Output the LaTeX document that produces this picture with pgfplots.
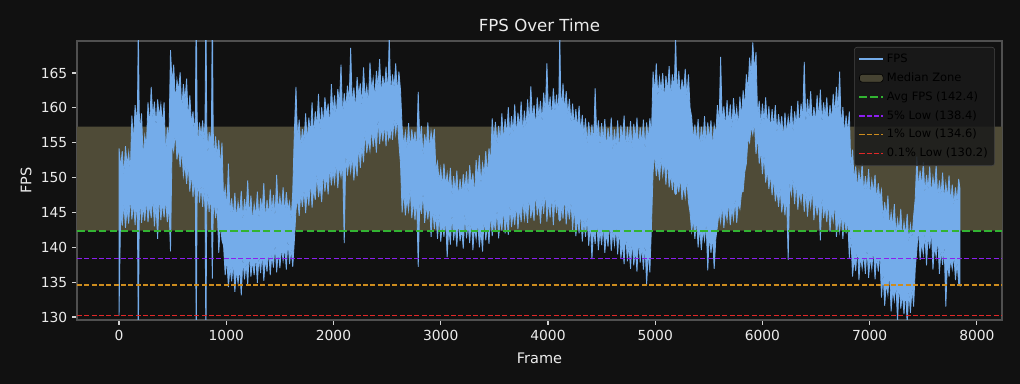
\documentclass[border=0pt]{standalone}
\usepackage{pgfplots}
\usepackage{pgfplotstable}
\pgfplotsset{compat=1.18}
\usepackage{fontspec}
\setmainfont{DejaVu Sans}
\definecolor{bg}{RGB}{17,17,17}
\definecolor{axcol}{RGB}{80,80,80}
\definecolor{tickcol}{RGB}{210,210,210}
\definecolor{lbl}{RGB}{235,235,235}
\definecolor{fpsc}{RGB}{116,172,234}
\definecolor{zone}{RGB}{79,75,55}
\definecolor{avgc}{RGB}{50,180,50}
\definecolor{pfive}{RGB}{140,30,240}
\definecolor{pone}{RGB}{205,140,30}
\definecolor{lowred}{HTML}{E02828}
\definecolor{legbg}{RGB}{26,26,26}
\definecolor{legedge}{RGB}{70,70,70}
% FPS band: highest values going forward in frame, then lowest values coming back
\pgfplotstableread{
x y
0 154.2
15 151.4
30 153.8
45 150.2
60 154.5
75 151.8
90 153.6
105 150.6
120 158.9
135 154.7
150 160.4
161 157.8
172 160.0
180 172
188 159.5
199 156.4
210 159.2
225 152.6
240 156.0
255 154.4
270 160.8
285 157.0
300 163.0
315 158.5
330 160.9
345 157.3
360 161.2
375 158.7
390 160.5
405 157.5
420 160.8
435 153.0
450 157.2
465 155.0
480 168.3
495 163.4
510 166.2
525 160.6
540 164.0
555 162.4
570 165.1
585 159.6
600 163.4
615 161.0
630 164.2
645 158.2
660 161.8
675 157.7
690 159.5
701 156.0
712 159.0
720 175
728 159.0
739 153.7
750 157.9
765 155.7
780 158.2
791 155.2
802 158.0
810 175
818 157.5
829 153.1
840 156.5
851 154.9
862 157.0
870 175
878 156.8
889 152.1
900 155.9
915 153.0
930 155.4
945 151.4
960 155.0
975 146.7
990 148.5
1005 145.5
1020 152.0
1035 144.8
1050 147.0
1065 144.2
1080 147.8
1095 143.9
1110 146.5
1125 144.6
1140 148.1
1155 143.8
1170 146.9
1185 144.9
1200 149.6
1215 144.1
1230 147.4
1245 143.5
1260 146.2
1275 144.4
1290 148.0
1305 143.9
1320 147.0
1335 145.1
1350 149.2
1365 143.6
1380 146.8
1395 144.3
1410 148.3
1425 145.0
1440 147.5
1455 144.2
1470 150.4
1485 144.8
1500 147.3
1515 145.2
1530 148.6
1545 144.6
1560 147.9
1575 145.4
1590 146.5
1605 144.0
1620 148.0
1635 156.5
1650 163.0
1665 155.1
1680 158.3
1695 154.2
1710 157.0
1725 155.0
1740 159.2
1755 154.9
1770 158.6
1785 156.0
1800 160.8
1815 155.7
1830 159.5
1845 157.2
1860 162.0
1875 156.6
1890 160.1
1905 157.4
1920 161.5
1935 158.8
1950 160.6
1965 157.1
1980 163.4
1995 159.2
2010 161.8
2025 158.6
2040 162.7
2055 160.3
2070 166.2
2085 158.4
2100 162.1
2115 159.9
2130 163.2
2145 160.6
2160 168.6
2175 160.1
2190 162.9
2205 159.5
2220 164.4
2235 161.7
2250 163.5
2265 160.2
2280 165.8
2295 161.3
2310 163.1
2325 160.5
2340 166.5
2355 162.4
2370 164.2
2385 161.2
2400 165.3
2415 162.9
2430 167.0
2445 161.8
2460 164.6
2475 162.6
2490 165.9
2501 162.1
2512 165.0
2520 170.5
2528 165.2
2539 161.6
2550 164.8
2565 162.8
2580 166.4
2595 162.0
2610 165.2
2625 162.5
2640 157.2
2655 154.6
2670 156.5
2685 154.0
2700 157.8
2715 153.9
2730 156.9
2745 154.7
2760 156.6
2775 153.6
2790 162.3
2805 155.0
2820 157.4
2835 153.0
2850 156.2
2865 154.4
2880 157.9
2895 153.8
2910 156.6
2925 154.8
2940 157.0
2955 151.0
2970 152.2
2985 149.4
3000 151.3
3015 148.5
3030 152.0
3045 148.8
3060 150.6
3075 148.4
3090 151.4
3105 147.2
3120 150.2
3135 147.9
3150 151.0
3165 146.8
3180 149.8
3195 147.4
3210 150.5
3225 148.1
3240 150.9
3255 147.6
3270 151.8
3285 148.8
3300 150.6
3315 147.2
3330 152.5
3345 149.7
3360 153.2
3375 148.9
3390 152.0
3405 150.4
3420 153.8
3435 150.2
3450 154.2
3465 152.0
3480 158.5
3495 155.1
3510 158.0
3525 154.6
3540 157.4
3555 155.0
3570 159.2
3585 154.8
3600 158.4
3615 155.9
3630 160.1
3645 155.6
3660 158.8
3675 156.3
3690 160.5
3705 155.9
3720 159.3
3735 157.0
3750 160.9
3765 156.2
3780 159.6
3795 157.1
3810 161.2
3825 157.6
3840 163.1
3855 158.2
3870 160.4
3885 157.0
3900 161.5
3915 158.6
3930 161.0
3945 157.8
3960 162.2
3975 159.0
3990 166.4
4005 158.9
4020 161.6
4035 158.4
4050 162.8
4065 159.3
4080 161.9
4091 159.0
4102 162.0
4110 170.5
4118 162.5
4129 159.6
4140 163.5
4155 159.4
4170 162.4
4185 158.9
4200 161.3
4215 157.7
4230 160.6
4245 157.2
4260 159.8
4275 156.8
4290 160.3
4305 156.4
4320 159.0
4335 155.9
4350 158.5
4365 154.7
4380 158.0
4395 155.2
4410 157.6
4425 154.5
4440 162.8
4455 155.6
4470 158.2
4485 154.4
4500 157.8
4515 155.0
4530 158.4
4545 153.9
4560 157.1
4575 154.6
4590 158.6
4605 153.8
4620 156.9
4635 154.3
4650 158.2
4665 153.6
4680 157.5
4695 155.1
4710 158.9
4725 154.0
4740 157.3
4755 154.8
4770 158.1
4785 153.9
4800 157.7
4815 155.2
4830 158.6
4845 154.1
4860 157.2
4875 154.7
4890 158.3
4905 153.8
4920 157.9
4935 155.3
4950 158.5
4965 156.0
4980 165.2
4995 162.1
5010 166.4
5025 161.5
5040 164.3
5055 162.4
5070 165.0
5085 161.0
5100 164.6
5115 162.2
5130 166.0
5145 161.4
5160 164.8
5171 162.6
5182 165.0
5190 170.5
5198 165.1
5209 161.8
5220 165.3
5235 161.3
5250 164.1
5265 162.0
5280 165.6
5295 161.5
5310 164.8
5325 160.0
5340 158.7
5355 155.3
5370 157.6
5385 154.9
5400 158.4
5415 154.1
5430 157.3
5445 155.0
5460 158.8
5475 154.6
5490 157.9
5505 155.3
5520 158.2
5535 154.2
5550 157.5
5565 156.0
5580 160.4
5595 157.2
5610 167.3
5625 157.8
5640 160.2
5655 157.0
5670 161.1
5685 157.6
5700 160.5
5715 156.9
5730 161.4
5745 158.1
5760 160.0
5775 157.2
5790 161.6
5805 158.4
5820 162.5
5835 160.0
5850 164.8
5865 162.3
5880 167.2
5895 164.6
5910 169.4
5925 165.2
5940 168.0
5955 158.5
5970 161.0
5985 157.4
6000 160.6
6015 157.9
6030 161.5
6045 157.3
6060 160.2
6075 156.6
6090 159.8
6105 157.0
6120 160.4
6135 156.2
6150 159.1
6165 156.8
6180 158.8
6195 155.4
6210 159.3
6225 156.1
6240 158.7
6255 156.9
6270 160.3
6285 156.3
6300 159.5
6315 157.4
6330 161.0
6345 157.0
6360 160.6
6375 158.2
6390 166.6
6405 157.6
6420 161.3
6435 158.5
6450 162.4
6465 157.4
6480 160.1
6495 157.9
6510 161.8
6525 158.2
6540 162.6
6555 157.7
6570 160.8
6585 158.6
6600 161.5
6615 157.3
6630 160.4
6645 158.0
6660 162.0
6675 158.9
6690 163.0
6705 159.4
6720 165.2
6735 156.8
6750 160.1
6765 155.9
6780 158.9
6795 156.3
6810 159.5
6825 151.2
6840 154.0
6855 149.6
6870 151.6
6885 148.3
6900 150.8
6915 148.9
6930 152.0
6945 147.6
6960 150.2
6975 148.1
6990 151.2
7005 147.2
7020 149.6
7035 147.8
7050 150.4
7065 146.5
7080 149.2
7095 146.9
7110 148.2
7125 144.0
7140 146.5
7155 144.3
7170 147.4
7185 142.6
7200 145.0
7215 142.9
7230 146.2
7245 141.8
7260 144.0
7275 142.2
7290 145.5
7305 141.0
7320 143.6
7335 141.6
7350 144.8
7365 140.7
7380 143.2
7395 141.3
7410 144.5
7425 147.0
7440 153.0
7455 148.4
7470 151.0
7485 148.6
7500 152.2
7515 147.6
7530 150.4
7545 148.2
7560 151.6
7575 147.3
7590 150.1
7605 148.3
7620 151.8
7635 147.0
7650 149.6
7665 147.4
7680 150.7
7695 146.8
7710 149.2
7725 147.0
7740 150.3
7755 146.2
7770 149.0
7785 146.0
7800 148.6
7815 146.4
7830 149.8
7842 148.4
7842 134.5
7830 134.8
7815 137.9
7800 135.3
7785 139.0
7770 136.9
7755 138.4
7740 135.8
7725 138.1
7710 131.5
7695 140.1
7680 137.5
7665 139.6
7650 136.2
7635 141.4
7620 138.6
7605 140.3
7590 136.8
7575 142.6
7560 139.8
7545 141.8
7530 137.4
7515 142.0
7500 139.0
7485 140.8
7470 138.2
7455 143.0
7440 139.6
7425 137.0
7410 131.5
7395 134.2
7380 130.6
7365 133.8
7350 128.9
7335 134.1
7320 130.4
7305 133.4
7290 131.2
7275 135.0
7260 129.2
7245 134.9
7230 132.4
7215 134.0
7200 130.8
7185 136.6
7170 133.2
7155 134.9
7140 131.6
7125 136.3
7110 132.8
7095 139.6
7080 136.5
7065 138.9
7050 135.4
7035 140.1
7020 136.9
7005 138.6
6990 135.6
6975 139.9
6960 136.2
6945 139.2
6930 137.0
6915 138.8
6900 135.3
6885 140.4
6870 136.6
6855 138.4
6840 135.8
6825 141.7
6810 138.5
6795 144.3
6780 142.0
6765 144.8
6750 141.2
6735 145.1
6720 142.3
6705 144.2
6690 141.5
6675 146.6
6660 143.8
6645 145.4
6630 142.2
6615 146.8
6600 143.6
6585 146.0
6570 144.2
6555 147.4
6540 141.0
6525 147.2
6510 144.6
6495 146.9
6480 143.9
6465 148.6
6450 145.8
6435 147.6
6420 144.4
6405 148.2
6390 145.1
6375 148.9
6360 146.5
6345 148.2
6330 145.4
6315 149.6
6300 146.2
6285 150.0
6270 147.6
6255 149.4
6240 138.2
6225 147.8
6210 144.6
6195 147.2
6180 145.0
6165 148.6
6150 145.8
6135 148.4
6120 146.6
6105 150.0
6090 147.5
6075 150.6
6060 148.4
6045 151.2
6030 149.3
6015 153.4
6000 150.5
5985 154.0
5970 152.0
5955 156.2
5940 153.4
5925 158.0
5910 156.2
5895 157.4
5880 155.0
5865 155.6
5850 152.0
5835 150.8
5820 148.0
5805 147.9
5790 145.5
5775 146.4
5760 143.5
5745 147.0
5730 144.0
5715 145.6
5700 143.2
5685 146.7
5670 143.9
5655 145.4
5640 142.8
5625 146.2
5610 143.6
5595 145.0
5580 143.0
5565 141.2
5550 136.9
5535 141.6
5520 139.2
5505 142.0
5490 136.7
5475 143.4
5460 141.0
5445 142.6
5430 139.6
5415 143.0
5400 140.0
5385 144.4
5370 141.2
5355 144.1
5340 142.3
5325 145.0
5310 146.5
5295 149.9
5280 147.2
5265 149.0
5250 146.8
5235 150.2
5220 147.9
5209 149.6
5198 147.7
5190 147.6
5182 147.8
5171 151.0
5160 148.2
5145 150.6
5130 148.6
5115 152.8
5100 149.0
5085 152.4
5070 150.4
5055 153.0
5040 149.6
5025 152.1
5010 150.2
4995 153.6
4980 150.8
4965 143.0
4950 136.4
4935 139.4
4920 134.6
4905 140.6
4890 136.8
4875 140.2
4860 137.8
4845 141.4
4830 136.5
4815 139.8
4800 137.4
4785 141.2
4770 136.9
4755 140.3
4740 138.0
4725 142.2
4710 137.6
4695 140.6
4680 138.4
4665 142.8
4650 139.0
4635 143.0
4620 140.4
4605 142.4
4590 139.5
4575 143.9
4560 140.1
4545 142.2
4530 139.2
4515 143.4
4500 140.3
4485 142.6
4470 139.6
4455 144.0
4440 140.5
4425 142.8
4410 138.3
4395 143.6
4380 140.2
4365 144.5
4350 141.5
4335 144.1
4320 140.8
4305 145.4
4290 142.0
4275 144.4
4260 141.6
4245 146.0
4230 142.5
4215 146.6
4200 144.0
4185 146.1
4170 143.3
4155 147.6
4140 144.1
4129 146.4
4118 144.0
4110 143.8
4102 144.0
4091 147.0
4080 144.9
4065 147.2
4050 143.2
4035 147.6
4020 144.3
4005 146.8
3990 143.7
3975 148.4
3960 144.8
3945 147.0
3930 143.4
3915 146.6
3900 144.6
3885 148.2
3870 143.8
3855 146.0
3840 144.2
3825 147.6
3810 143.5
3795 145.9
3780 144.1
3765 147.0
3750 143.6
3735 145.8
3720 142.6
3705 146.4
3690 143.2
3675 145.1
3660 142.9
3645 146.2
3630 141.8
3615 144.6
3600 142.0
3585 145.8
3570 142.4
3555 144.2
3540 141.3
3525 145.6
3510 142.2
3495 144.0
3480 141.6
3465 145.2
3450 140.5
3435 143.4
3420 141.0
3405 144.6
3390 139.4
3375 142.4
3360 140.0
3345 143.8
3330 141.2
3315 143.0
3300 139.6
3285 144.4
3270 140.6
3255 143.5
3240 141.3
3225 145.0
3210 139.8
3195 142.7
3180 140.9
3165 144.1
3150 140.1
3135 143.2
3120 141.0
3105 145.0
3090 140.4
3075 142.9
3060 138.6
3045 144.3
3030 141.5
3015 143.6
3000 140.8
2985 145.0
2970 141.2
2955 144.8
2940 142.6
2925 145.9
2910 141.5
2895 146.6
2880 144.0
2865 146.2
2850 143.5
2835 148.0
2820 144.8
2805 146.6
2790 137.2
2775 147.4
2760 143.9
2745 146.8
2730 144.2
2715 148.6
2700 145.3
2685 147.0
2670 144.6
2655 148.2
2640 145.0
2625 152.0
2610 154.9
2595 158.6
2580 156.3
2565 158.4
2550 155.4
2539 158.0
2528 155.7
2520 156.0
2512 155.5
2501 158.2
2490 154.5
2475 157.8
2460 155.2
2445 157.4
2430 154.8
2415 158.6
2400 153.6
2385 156.7
2370 154.4
2355 157.2
2340 153.9
2325 155.6
2310 153.5
2295 157.0
2280 152.2
2265 154.6
2250 151.4
2235 154.8
2220 150.2
2205 152.8
2190 149.6
2175 153.2
2160 150.8
2145 152.6
2130 150.3
2115 153.5
2100 140.6
2085 152.4
2070 150.1
2055 151.8
2040 148.5
2025 152.3
2010 149.3
1995 151.0
1980 148.9
1965 151.7
1950 147.6
1935 150.4
1920 148.0
1905 151.2
1890 146.5
1875 149.0
1860 147.2
1845 150.6
1830 146.8
1815 148.5
1800 145.7
1785 149.8
1770 146.0
1755 148.2
1740 144.9
1725 148.4
1710 145.8
1695 147.9
1680 144.5
1665 147.2
1650 145.3
1635 141.0
1620 137.2
1605 139.8
1590 137.6
1575 141.2
1560 136.8
1545 140.1
1530 138.1
1515 140.0
1500 137.0
1485 139.6
1470 136.4
1455 140.5
1440 137.1
1425 139.0
1410 136.0
1395 139.8
1380 136.5
1365 138.4
1350 135.2
1335 139.3
1320 136.3
1305 138.7
1290 134.9
1275 139.0
1260 136.0
1245 138.2
1230 135.8
1215 139.4
1200 134.6
1185 137.8
1170 135.4
1155 138.6
1140 133.1
1125 137.3
1110 134.8
1095 136.9
1080 133.6
1065 138.0
1050 135.1
1035 137.2
1020 134.3
1005 138.4
990 136.0
975 140.2
960 141.0
945 143.6
930 139.2
915 146.0
900 144.2
889 147.0
878 144.5
870 135.5
862 144.8
851 147.6
840 145.1
829 148.0
818 145.3
810 126
802 145.5
791 148.9
780 145.8
765 149.0
750 146.4
739 149.9
728 146.8
720 126
712 147.0
701 150.2
690 147.2
675 150.8
660 148.0
645 152.0
630 149.1
615 151.9
600 150.3
585 154.2
570 151.5
555 154.4
540 152.6
525 156.8
510 153.8
495 155.0
480 139.4
465 146.0
450 143.6
435 147.0
420 144.3
405 146.6
390 143.9
375 147.8
360 141.2
345 146.2
330 143.0
315 147.4
300 144.2
285 146.3
270 143.6
255 147.0
240 143.8
225 146.0
210 143.5
199 147.2
188 143.5
180 126
172 143.4
161 146.8
150 143.2
135 146.5
120 144.0
105 147.4
90 143.4
75 145.6
60 142.8
45 146.4
30 143.1
15 145.2
0 130.2
0 154.2
}\fpsband
\begin{document}
\begin{tikzpicture}
\fill[bg] (0,0) rectangle (734.4bp,276.48bp);
\begin{axis}[
  at={(55.44bp,46.08bp)}, anchor=south west,
  scale only axis, width=666bp, height=200.9bp,
  xmin=-392, xmax=8234, ymin=129.57, ymax=169.6,
  axis background/.style={fill=bg},
  axis line style={draw=axcol, line width=0.8pt},
  xtick={0,1000,...,8000}, ytick={130,135,...,165},
  xtick pos=left, ytick pos=left,
  tick align=outside, major tick length=3.5pt,
  tick style={draw=tickcol, line width=0.8pt},
  ticklabel style={font=\fontsize{10}{12}\selectfont, text=lbl},
  /pgf/number format/assume math mode=true,
  /pgf/number format/1000 sep={},
  scaled ticks=false,
  xlabel={Frame}, ylabel={FPS},
  label style={font=\fontsize{10.5}{12}\selectfont, text=lbl},
  xlabel style={at={(axis description cs:0.5,-0.136)}, anchor=center},
  ylabel style={at={(axis description cs:-0.0551,0.5)}, anchor=center},
  title={FPS Over Time},
  title style={at={(axis description cs:0.5,1.027)}, anchor=center, font=\fontsize{12}{14}\selectfont, text=lbl},
  legend style={at={(axis description cs:0.9924,0.9785)}, anchor=north east,
    fill=legbg, fill opacity=0.85, text opacity=1, draw=legedge, rounded corners=2pt,
    font=\fontsize{8.3}{10}\selectfont, text=black, row sep=1.8pt, inner sep=3pt},
  legend cell align=left,
]
\addplot[fill=zone, draw=none, forget plot] coordinates {(-392,142.4) (8234,142.4) (8234,157.3) (-392,157.3) (-392,142.4)};
\addplot[draw=fpsc, fill=fpsc, line width=0.6pt, line join=miter, forget plot] table[x=x, y=y] {\fpsband};
\addlegendimage{draw=fpsc, line width=1.4pt}
\addlegendentry{FPS}
\addlegendimage{area legend, fill=zone, draw=none}
\addlegendentry{Median Zone}
\addplot[draw=avgc, line width=1.4pt, dash pattern=on 5.5pt off 2.4pt] coordinates {(-392,142.4) (8234,142.4)};
\addlegendentry{Avg FPS (142.4)}
\addplot[draw=pfive, line width=1pt, dash pattern=on 3.7pt off 1.6pt] coordinates {(-392,138.4) (8234,138.4)};
\addlegendentry{5\% Low (138.4)}
\addplot[draw=pone, line width=1pt, dash pattern=on 3.7pt off 1.6pt] coordinates {(-392,134.6) (8234,134.6)};
\addlegendentry{1\% Low (134.6)}
\addplot[draw=lowred, line width=1.1pt, dash pattern=on 3.7pt off 1.6pt] coordinates {(-392,130.2) (8234,130.2)};
\addlegendentry{0.1\% Low (130.2)}
\end{axis}
\end{tikzpicture}
\end{document}
